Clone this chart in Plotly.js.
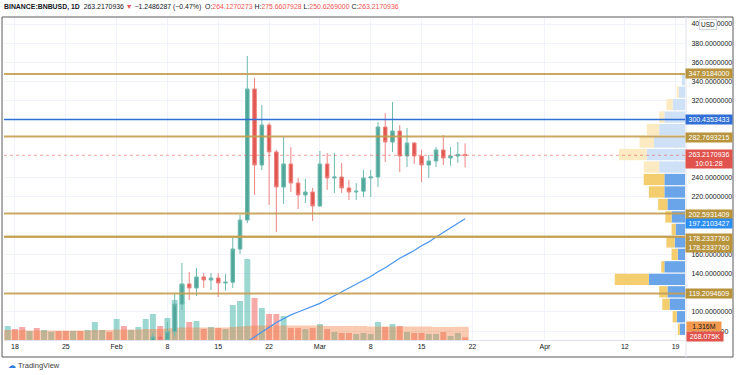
<!DOCTYPE html>
<html>
<head>
<meta charset="utf-8">
<script src="https://cdn.plot.ly/plotly-3.0.1.min.js"></script>
<style>
html,body{margin:0;padding:0;background:#fff;}
#chart{width:736px;height:375px;}
</style>
</head>
<body>
<div id="chart"></div>
<script>
// ---------- DATA ----------
const dates = [
 '2021-01-16','2021-01-17','2021-01-18','2021-01-19','2021-01-20','2021-01-21','2021-01-22','2021-01-23',
 '2021-01-24','2021-01-25','2021-01-26','2021-01-27','2021-01-28','2021-01-29','2021-01-30','2021-01-31',
 '2021-02-01','2021-02-02','2021-02-03','2021-02-04','2021-02-05','2021-02-06','2021-02-07','2021-02-08',
 '2021-02-09','2021-02-10','2021-02-11','2021-02-12','2021-02-13','2021-02-14','2021-02-15','2021-02-16',
 '2021-02-17','2021-02-18','2021-02-19','2021-02-20','2021-02-21','2021-02-22','2021-02-23','2021-02-24',
 '2021-02-25','2021-02-26','2021-02-27','2021-02-28',
 '2021-03-01','2021-03-02','2021-03-03','2021-03-04','2021-03-05','2021-03-06','2021-03-07','2021-03-08',
 '2021-03-09','2021-03-10','2021-03-11','2021-03-12','2021-03-13','2021-03-14','2021-03-15','2021-03-16',
 '2021-03-17','2021-03-18','2021-03-19','2021-03-20','2021-03-21'
];
const openP = [41.5,42.5,43.6,42.8,41.9,42.5,38.6,40.4,40.6,40.3,40.0,40.6,38.8,42.0,43.4,44.2,
 43.5,49.0,48.3,50.6,51.2,58.0,74.0,71.0,
 79.5,108.3,129.2,125.0,136.5,133.3,135.4,130.2,
 131.0,165.6,195.8,332.3,253.1,294.8,266.7,230.2,254.2,234.4,221.9,225.0,
 210.4,254.2,239.6,240.6,229.2,225.0,225.8,239.6,
 240.6,292.7,277.1,288.5,262.5,276.0,262.5,253.1,257.3,268.8,260.4,262.5,264.1270273];
const highP = [44.0,44.5,44.5,44.0,43.0,43.0,41.0,41.0,41.5,42.0,41.5,41.0,42.5,46.0,44.8,44.6,
 50.0,50.6,51.5,53.6,58.6,78.0,77.5,89.5,
 119.8,151.0,141.7,145.8,140.6,140.6,140.6,139.6,
 177.1,201.0,366.7,343.8,315.6,297.0,268.8,282.3,271.9,239.6,238.5,229.2,
 267.7,265.6,265.6,255.2,237.5,234.4,247.9,247.9,
 297.9,307.3,318.8,294.8,291.7,277.1,268.8,263.5,271.9,284.4,271.9,277.1,275.6607928];
const lowP = [40.0,41.0,42.0,41.5,39.5,37.5,37.0,39.5,39.5,39.8,39.2,37.8,38.2,41.5,42.5,42.8,
 43.0,46.5,47.8,48.4,50.4,57.5,65.5,68.5,
 74.5,102.1,112.5,116.7,125.0,122.9,115.6,121.9,
 125.0,160.5,192.7,221.9,247.9,211.5,183.3,212.5,225.0,207.3,213.5,194.8,
 209.4,227.1,224.0,224.0,216.7,216.7,219.8,219.8,
 230.2,256.3,266.7,245.8,251.0,254.2,235.4,239.6,251.0,253.1,252.1,255.2,250.6269000];
const closeP = [42.5,43.6,42.8,41.9,42.5,38.6,40.4,40.6,40.3,40.0,40.6,38.8,42.0,43.4,44.2,43.5,
 49.0,48.3,50.6,51.2,58.0,74.0,71.0,79.5,
 108.3,129.2,125.0,136.5,133.3,135.4,130.2,131.0,
 165.6,195.8,332.3,253.1,294.8,266.7,230.2,254.2,234.4,221.9,225.0,210.4,
 254.2,239.6,240.6,229.2,225.0,225.8,239.6,240.6,
 292.7,277.1,288.5,262.5,276.0,262.5,253.1,257.3,268.8,260.4,262.5,264.1270273,263.2170936];
// volume (millions)
const volume = [1.1,1.4,1.1,1.3,0.9,1.2,1.0,0.8,0.9,0.9,0.9,0.9,1.0,1.8,1.0,0.8,
 2.1,1.4,1.0,1.3,2.1,2.6,1.4,2.2,
 4.0,5.6,1.8,1.9,1.1,1.3,1.2,1.1,
 3.5,3.9,8.1,4.2,3.2,2.6,2.6,2.4,1.2,1.2,1.1,1.2,
 1.6,1.1,0.8,0.7,0.7,0.6,0.7,0.6,
 1.8,1.3,1.6,1.4,0.8,0.7,0.7,0.6,0.6,0.8,0.4,0.7,0.268075];
// volume moving average (orange columns, millions)
const volMA = [1.0,1.0,1.0,1.0,0.95,0.95,0.95,0.95,0.95,0.95,0.95,0.95,0.95,1.0,1.0,1.0,
 1.05,1.05,1.05,1.05,1.1,1.1,1.1,1.15,
 1.2,1.25,1.25,1.25,1.25,1.25,1.25,1.25,
 1.3,1.35,1.4,1.45,1.45,1.45,1.45,1.45,1.45,1.45,1.45,1.45,
 1.45,1.4,1.4,1.4,1.4,1.4,1.4,1.35,
 1.35,1.35,1.35,1.35,1.35,1.35,1.35,1.35,1.3,1.3,1.3,1.32,1.316];
// price moving average (blue line)
const maDates = dates.slice(32);
const maValues = [60,64,69,74,79,84,89,93,97,100,103,106,
 109,113,117,121,125,129,133,137,142,146,151,156,160,164,169,173,178,183,188,193,197.2103427];
// visible-range volume profile (rows of 13 price units)
const vpPrice = [342,329,316,303,290,277,264,251,238,225,212,199,186,173,160,147,134,121,108,95,82];
const vpDown  = [0,2,6,5,12,14,27,15,20,15,9,6,4,8,6,3,33,8,7,4,2];
const vpUp    = [3,6,12,20,25,30,37,25,20,20,17,13,9,10,7,20,35,17,15,8,5];
const vpValueArea = [false,false,false,false,false,false,false,false,true,true,true,true,true,true,true,true,true,true,true,true,true];
// horizontal levels
const goldLevels = [347.9184000, 282.7693215, 202.5931409, 178.2337760, 178.2337760, 119.2094609];
const blueLevel = 300.4353433;
const lastPrice = 263.2170936;
const countdown = '10:01:28';
const volMALabel = '1.316M';
const volLabel = '268.075K';
// axis ticks
const xTickVals = ['2021-01-18','2021-01-25','2021-02-01','2021-02-08','2021-02-15','2021-02-22','2021-03-01','2021-03-08','2021-03-15','2021-03-22','2021-04-01','2021-04-12','2021-04-19'];
const xTickText = ['18','25','Feb','8','15','22','Mar','8','15','22','Apr','12','19'];
const yTickVals = [80,100,140,160,220,240,320,340,360,380,400];

// ---------- BUILD ----------
const UP = '#4fa69a', DN = '#e25650';
const volColors = closeP.map((c,i)=> c>=openP[i] ? 'rgba(38,166,154,0.45)' : 'rgba(239,83,80,0.5)');
const DAY = 86400000;
const FONT = 'Liberation Sans, Arial, sans-serif';

const traces = [
  {type:'bar', x:dates, y:volume, xaxis:'x', yaxis:'y', marker:{color:volColors, line:{width:0}},
   width:DAY*0.82, hoverinfo:'skip', showlegend:false},
  {type:'bar', x:dates, y:volMA, xaxis:'x', yaxis:'y', marker:{color:'rgba(240,128,64,0.42)', line:{width:0}},
   width:DAY*1.0, hoverinfo:'skip', showlegend:false},
  {type:'candlestick', x:dates, open:openP, high:highP, low:lowP, close:closeP, xaxis:'x', yaxis:'y2',
   increasing:{line:{color:'#6db9ae', width:1}, fillcolor:UP},
   decreasing:{line:{color:'#ec8580', width:1}, fillcolor:DN},
   whiskerwidth:0, hoverinfo:'skip', showlegend:false},
  {type:'scatter', mode:'lines', x:maDates, y:maValues, xaxis:'x', yaxis:'y2',
   line:{color:'#4a94ee', width:1.2}, hoverinfo:'skip', showlegend:false},
  {type:'bar', orientation:'h', y:vpPrice, x:vpUp, xaxis:'x2', yaxis:'y2', width:11.8,
   marker:{color:vpValueArea.map(v=> v ? '#6aa5ea' : '#cfe1f6'), line:{width:0}}, hoverinfo:'skip', showlegend:false},
  {type:'bar', orientation:'h', y:vpPrice, x:vpDown, base:vpUp, xaxis:'x2', yaxis:'y2', width:11.8,
   marker:{color:vpValueArea.map(v=> v ? '#f3cd6e' : '#fbeac2'), line:{width:0}}, hoverinfo:'skip', showlegend:false}
];

const vpMax = Math.max(...vpUp.map((u,i)=>u+vpDown[i]));

const fmt = v => v.toFixed(7);
const shapes = [];
goldLevels.forEach(v=>shapes.push({type:'line', xref:'paper', x0:0, x1:1, yref:'y2', y0:v, y1:v,
  line:{color:'rgba(196,158,80,0.9)', width:2}, layer:'above'}));
shapes.push({type:'line', xref:'paper', x0:0, x1:1, yref:'y2', y0:blueLevel, y1:blueLevel,
  line:{color:'#2f6fd6', width:1.5}, layer:'above'});
shapes.push({type:'line', xref:'paper', x0:0, x1:1, yref:'y2', y0:lastPrice, y1:lastPrice,
  line:{color:'rgba(239,83,80,0.55)', width:1, dash:'dot'}, layer:'above'});
// widget frame
shapes.push({type:'rect', xref:'paper', yref:'paper', x0:-0.0029, x1:1.0705, y0:-0.0528, y1:1.0031,
  line:{color:'#5a5a5a', width:1}, fillcolor:'rgba(0,0,0,0)'});
shapes.push({type:'line', xref:'paper', yref:'paper', x0:1.0015, x1:1.0015, y0:-0.0528, y1:1.0031,
  line:{color:'#e0e3eb', width:1}});

const ann = [];
const PX = (px)=> (px-4)/681;
function label(yv, text, bg, fc, yshift, h){
  ann.push({xref:'paper', yref:'y2', x:PX(709), y:yv, text:text, showarrow:false, xanchor:'center', yanchor:'middle',
    bgcolor:bg, font:{family:FONT, size:7, color:fc}, width:46, height:h||9, borderpad:0, yshift:yshift||0});
}
label(goldLevels[0], fmt(goldLevels[0]), '#b8943c', '#fff');
label(blueLevel, fmt(blueLevel), '#2f6fd6', '#fff');
label(goldLevels[1], fmt(goldLevels[1]), '#b8943c', '#fff', -1);
label(lastPrice, fmt(lastPrice)+'<br>'+countdown, '#e0544d', '#fff', -4, 18);
label(goldLevels[2], fmt(goldLevels[2]), '#b8943c', '#fff', -1);
label(maValues[maValues.length-1], fmt(maValues[maValues.length-1]), '#2b8ef0', '#fff', -5);
label(goldLevels[3], fmt(goldLevels[3]), '#b8943c', '#fff', -2);
label(goldLevels[4], fmt(goldLevels[4]), '#b8943c', '#fff', -11);
label(goldLevels[5], fmt(goldLevels[5]), '#b8943c', '#fff');
ann.push({xref:'paper', yref:'paper', x:PX(686), y:(340-326.5)/322, text:volMALabel, showarrow:false, xanchor:'left', yanchor:'middle',
  bgcolor:'#f2994e', font:{family:FONT, size:7, color:'#131722'}, width:34, height:9, borderpad:0});
ann.push({xref:'paper', yref:'paper', x:PX(686), y:(340-336.5)/322, text:volLabel, showarrow:false, xanchor:'left', yanchor:'middle',
  bgcolor:'#e0544d', font:{family:FONT, size:7, color:'#fff'}, width:36, height:9, borderpad:0});
ann.push({xref:'paper', yref:'paper', x:PX(708), y:(340-24)/322, text:'USD', showarrow:false, xanchor:'center', yanchor:'middle',
  bgcolor:'#fff', bordercolor:'#d1d4dc', borderwidth:1, font:{family:FONT, size:6.5, color:'#131722'}, borderpad:1});
// header
ann.push({xref:'paper', yref:'paper', x:PX(2), y:(340-7)/322, xanchor:'left', yanchor:'middle', showarrow:false,
  font:{family:FONT, size:6.9, color:'#131722'},
  text:'<b>BINANCE:BNBUSD, 1D</b>  263.2170936 <span style="color:#ef5350">▼</span> −1.2486287 (−0.47%)  O:<span style="color:#ef5350">264.1270273</span> H:<span style="color:#ef5350">275.6607928</span> L:<span style="color:#ef5350">250.6269000</span> C:<span style="color:#ef5350">263.2170936</span>'});
// logo
ann.push({xref:'paper', yref:'paper', x:PX(6), y:(340-365)/322, xanchor:'left', yanchor:'middle', showarrow:false,
  font:{family:FONT, size:7.5, color:'#3c3c3c'}, text:'<span style="color:#2f7de1">☁</span> TradingView'});

const layout = {
  width:736, height:375,
  margin:{l:4, r:51, t:18, b:35},
  paper_bgcolor:'#fff', plot_bgcolor:'#fff',
  barmode:'overlay',
  showlegend:false,
  font:{family:FONT, size:7, color:'#131722'},
  xaxis:{type:'date', range:['2021-01-16 11:40','2021-04-20 07:00'], tickvals:xTickVals, ticktext:xTickText,
    showgrid:true, gridcolor:'#f0f3fa', gridwidth:1, zeroline:false, ticks:'', showline:true, linecolor:'#e0e3eb',
    tickfont:{family:FONT, size:7, color:'#131722'}, rangeslider:{visible:false}, fixedrange:true},
  yaxis:{range:[0,32.2], visible:false, showgrid:false, zeroline:false, fixedrange:true},
  yaxis2:{overlaying:'y', side:'right', range:[70.8,406.25], tickvals:yTickVals, ticktext:yTickVals.map(fmt),
    showgrid:true, gridcolor:'#f0f3fa', zeroline:false, ticks:'outside', ticklen:4, tickcolor:'rgba(0,0,0,0)',
    showline:false, tickfont:{family:FONT, size:7, color:'#131722'}, fixedrange:true},
  xaxis2:{overlaying:'x', anchor:'y2', range:[vpMax*9.7, 0], visible:false, fixedrange:true},
  shapes:shapes,
  annotations:ann
};
Plotly.newPlot('chart', traces, layout, {displayModeBar:false, staticPlot:true});
</script>
</body>
</html>
